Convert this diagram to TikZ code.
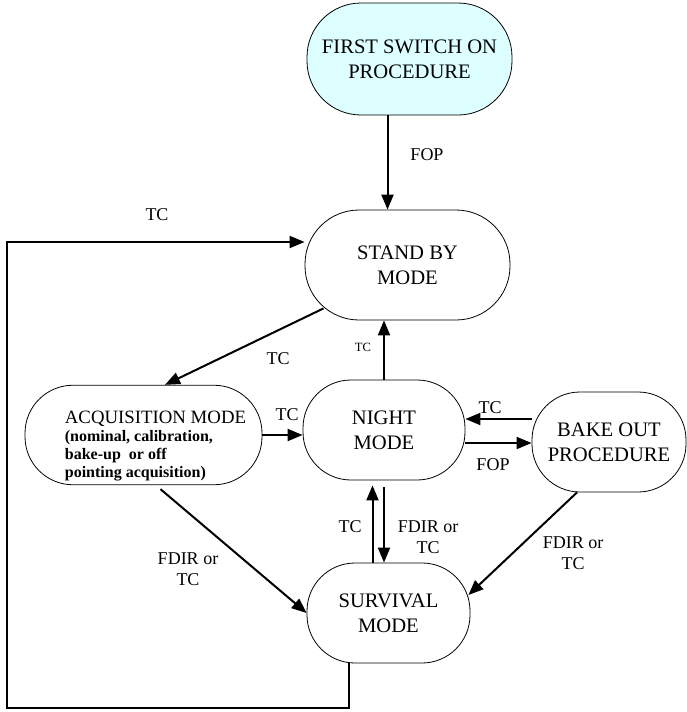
\documentclass[tikz,border=0pt]{standalone}
\usepackage{fontspec}
\setmainfont{Liberation Serif}
\usepackage{tikz}
\usetikzlibrary{positioning,arrows.meta,calc}
\definecolor{startcyan}{RGB}{222,255,255}

\begin{document}
\begin{tikzpicture}[
    x=0.5pt,y=-0.5pt,
    mode/.style={rectangle,draw,line width=0.4pt,rounded corners=24pt,align=center,
        font=\fontsize{10.3}{12.5}\selectfont,inner sep=2pt},
    lbl/.style={align=center,font=\fontsize{9}{10.5}\selectfont,inner sep=0pt},
    small/.style={font=\fontsize{6.3}{7.5}\selectfont,inner sep=0pt},
    arr/.style={-{Triangle[length=7.5pt,width=6pt]},line width=1pt}
]
    \useasboundingbox (0,0) rectangle (686,712);
    \node[mode,rounded corners=27pt,fill=startcyan,minimum width=102.5pt,minimum height=56pt] (first) at (409.5,59) {FIRST SWITCH ON\\PROCEDURE};
    \node[mode,rounded corners=27pt,minimum width=102.5pt,minimum height=55pt] (standby) at (407.5,265) {STAND BY\\MODE};
    \node[mode,minimum width=81pt,minimum height=50pt] (night) at (384,430) {NIGHT\\MODE};
    \node[mode,minimum width=118.5pt,minimum height=48pt,align=left,
        font=\fontsize{8}{9}\selectfont\bfseries] (acq) at (143.5,435)
        {\hspace*{12pt}\rule{0pt}{17pt}{\fontseries{m}\fontsize{9.4}{9}\selectfont ACQUISITION MODE}\\[0pt]
         \hspace*{12pt}(nominal, calibration,\\
         \hspace*{12pt}bake-up\ \ or off\\
         \hspace*{12pt}pointing acquisition)};
    \node[mode,minimum width=77pt,minimum height=50pt] (bake) at (609,442) {BAKE OUT\\PROCEDURE};
    \node[mode,minimum width=81.5pt,minimum height=50pt] (survival) at (388.5,613) {SURVIVAL\\MODE};
    \coordinate (loopbl) at (7,708);

    % connectors
    \draw[arr] ([xshift=-11pt]first.south) -- ([xshift=-11pt]first.south |- standby.north);
    \draw[arr] ([xshift=-20pt]survival.south) |- (loopbl) |- ([yshift=11.5pt]standby.west);
    \draw[arr] ([xshift=-42pt,yshift=6pt]standby.south) -- ([xshift=10.75pt]acq.north);
    \draw[arr] (night.north) -- (night.north |- standby.south);
    \draw[arr] (acq.east) -- (acq.east -| night.west);
    \draw[arr] ([yshift=11.5pt]bake.west) -- ([yshift=11.5pt]bake.west -| night.east);
    \draw[arr] ([yshift=-6.5pt]night.east) -- ([yshift=-6.5pt]night.east -| bake.west);
    \draw[arr,shorten >=2.5pt] ([xshift=-8pt]survival.north) -- ([xshift=-8pt]survival.north |- night.south);
    \draw[arr,shorten <=3.5pt] (night.south) -- (night.south |- survival.north);
    \draw[arr] ([xshift=8.5pt,yshift=-2pt]acq.south) -- (survival.west);
    \draw[arr] ([xshift=-16pt]bake.south) -- ([yshift=9pt,xshift=-1pt]survival.east);

    % labels
    \node[lbl] (fop1) at (427,155) {FOP};
    \node[lbl] (tcloop) at (157,215) {TC};
    \node[lbl] (tcacq) at (278,359) {TC};
    \node[small] (tcstand) at (363,347) {TC};
    \node[lbl] (tcnight) at (287,415) {TC};
    \node[lbl] (tcbake) at (490,408) {TC};
    \node[lbl] (fop2) at (493,465) {FOP};
    \node[lbl] (tcsurv) at (350,527) {TC};
    \node[lbl] (fdir1) at (428,537) {FDIR or\\TC};
    \node[lbl] (fdir2) at (188,569) {FDIR or\\TC};
    \node[lbl] (fdir3) at (573,553) {FDIR or\\TC};
\end{tikzpicture}
\end{document}
